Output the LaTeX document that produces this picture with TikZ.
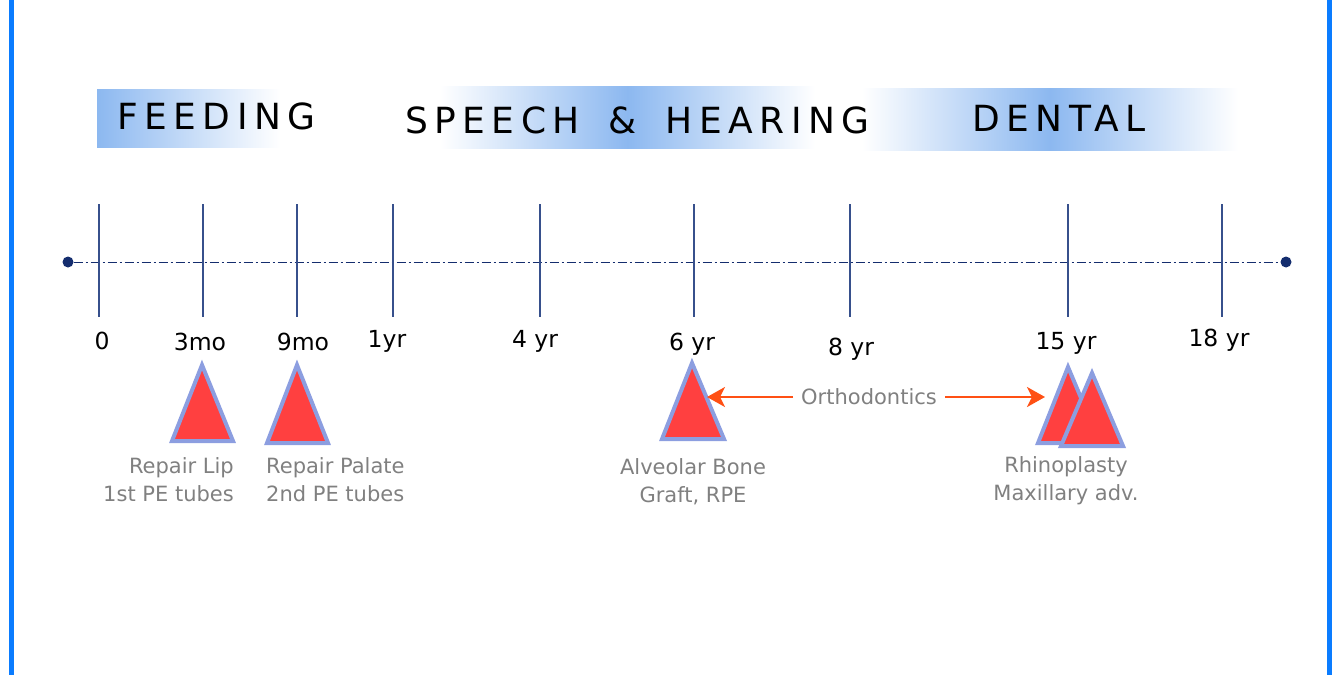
\documentclass[tikz,border=0pt]{standalone}
\usepackage{fontspec}
\setmainfont{DejaVu Sans}
\newfontfamily\headfont[LetterSpace=18]{DejaVu Sans}
\usetikzlibrary{arrows.meta}
\definecolor{sideblue}{RGB}{10,124,255}
\definecolor{bandblue}{RGB}{140,184,240}
\definecolor{axisnavy}{RGB}{20,45,110}
\definecolor{ticknavy}{RGB}{55,80,140}
\definecolor{surgred}{RGB}{255,64,64}
\definecolor{surgedge}{RGB}{140,158,224}
\definecolor{orthoorange}{RGB}{255,80,20}
\definecolor{notegray}{RGB}{128,128,128}
\begin{document}
\begin{tikzpicture}[x=1pt, y=-1pt,
  heading/.style={font=\headfont\fontsize{36}{40}\selectfont, anchor=base west, inner sep=0pt},
  agelabel/.style={font=\fontsize{23.5}{26}\selectfont, anchor=base, inner sep=0pt},
  note/.style={font=\fontsize{21}{28}\selectfont, text=notegray, inner sep=0pt},
  surgery/.style={fill=surgred, draw=surgedge, line width=4pt, line join=miter},
  tickline/.style={draw=ticknavy, line width=1.5pt},
  dot/.style={circle, fill=axisnavy, inner sep=0pt, minimum size=11pt},
  orthoarrow/.style={draw=orthoorange, line width=2.5pt, -{Stealth[length=18pt, width=20pt, inset=5pt]}}]
  \useasboundingbox (0,0) rectangle (1335,675);
  % side bars
  \fill[sideblue] (9,0) rectangle (14,675);
  \fill[sideblue] (1327,0) rectangle (1332,675);
  % phase bands
  \shade[left color=bandblue, right color=white] (97,89) rectangle (280,147);
  \shade[left color=white, right color=white, middle color=bandblue] (440,86) rectangle (815,148);
  \shade[left color=white, right color=white, middle color=bandblue] (862,88) rectangle (1238,150);
  \node[heading] (feeding) at (117,129) {FEEDING};
  \node[heading] (speech) at (405,133) {SPEECH\hspace{11pt} \&\hspace{11pt} HEARING};
  \node[heading] (dental) at (972,131) {DENTAL};
  % timeline
  \node[dot] (tstart) at (68,262) {};
  \node[dot] (tend) at (1286,262) {};
  \draw[axisnavy, line width=1pt, dash pattern=on 9pt off 3pt on 2pt off 3pt] (tstart) -- (tend);
  % ticks and ages
  \foreach \a/\c/\b/\lab in {99/102/349/0, 203/200/350/3mo, 297/303/350/9mo, 393/387/347/1yr,
      540/535/347/4 yr, 694/692/350/6 yr, 850/851/355/8 yr, 1068/1066/349/15 yr, 1222/1219/346/18 yr}{
    \draw[tickline] (\a,204) -- (\a,317);
    \node[agelabel] (age\a) at (\c,\b) {\lab};
  }
  % surgeries
  \filldraw[surgery] (202,365) -- (172,441) -- (233,441) -- cycle;
  \filldraw[surgery] (297,365) -- (267,443) -- (328,443) -- cycle;
  \filldraw[surgery] (692,363) -- (662,439) -- (724,439) -- cycle;
  \filldraw[surgery] (1068,367) -- (1038,443) -- (1100,443) -- cycle;
  \filldraw[surgery] (1092,373) -- (1061,446) -- (1123,446) -- cycle;
  \node[note, align=right, anchor=north east] (lip) at (234,457) {Repair Lip\\1st PE tubes};
  \node[note, align=left, anchor=north west] (palate) at (266,457) {Repair Palate\\2nd PE tubes};
  \node[note, align=center, anchor=north] (bone) at (693,458) {Alveolar Bone\\Graft, RPE};
  \node[note, align=center, anchor=north] (rhino) at (1066,456) {Rhinoplasty\\Maxillary adv.};
  % orthodontics
  \node[note, inner xsep=8pt] (ortho) at (869,397) {Orthodontics};
  \coordinate (bonetip) at (707,397);
  \coordinate (rhinotip) at (1045,397);
  \draw[orthoarrow] (ortho) -- (bonetip);
  \draw[orthoarrow] (ortho) -- (rhinotip);
\end{tikzpicture}
\end{document}
